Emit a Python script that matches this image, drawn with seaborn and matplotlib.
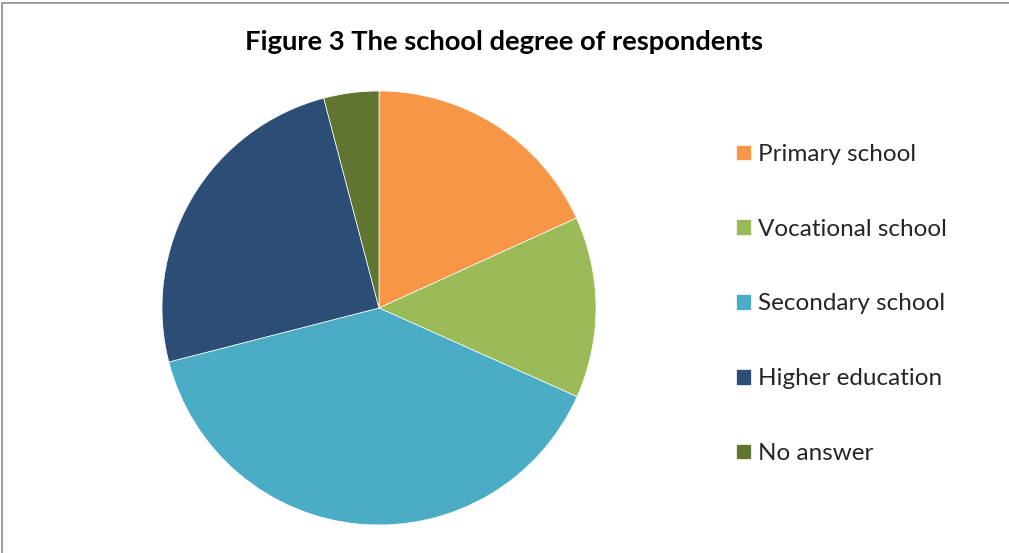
import matplotlib
matplotlib.use("Agg")
import matplotlib.pyplot as plt
import seaborn as sns

sns.set_theme(style="white")
plt.rcParams['font.family'] = ['Lato', 'DejaVu Sans']

categories = ["Primary school", "Vocational school", "Secondary school",
              "Higher education", "No answer"]
shares = [18.2, 13.5, 39.3, 24.9, 4.1]
colors = ["#F79646", "#9BBB59", "#4BACC6", "#2C4D75", "#5F7530"]
title = "Figure 3 The school degree of respondents"

W, H = 1009, 553
fig = plt.figure(figsize=(W / 100, H / 100), dpi=100)
fig.patch.set_facecolor("white")

# chart frame (left and top edges visible)
frame = plt.Rectangle((1.5 / W, -0.01), 1.1, 1 - 2.5 / H + 0.01, transform=fig.transFigure,
                      fill=False, edgecolor="#8c8c8c", linewidth=1.2)
fig.add_artist(frame)

cx, cy, r = 379, 308, 217
ax = fig.add_axes([(cx - r) / W, (H - cy - r) / H, 2 * r / W, 2 * r / H])
wedges, _ = ax.pie(shares, colors=colors, startangle=90, counterclock=False,
                   wedgeprops=dict(edgecolor="white", linewidth=0.5))
ax.set_aspect("equal")
ax.set_xlim(-1, 1)
ax.set_ylim(-1, 1)
ax.axis("off")

fig.text(504 / W, 1 - 42 / H, title, ha="center", va="center",
         fontsize=19.7, fontweight="bold", color="black")

fig.legend(wedges, categories, loc="center left",
           bbox_to_anchor=(736 / W, 1 - 304 / H), frameon=False,
           fontsize=17.5, handlelength=0.62, handleheight=0.62, handletextpad=0.29,
           labelspacing=2.21, borderaxespad=0, borderpad=0)

fig.savefig("out.png", dpi=100, facecolor="white")
